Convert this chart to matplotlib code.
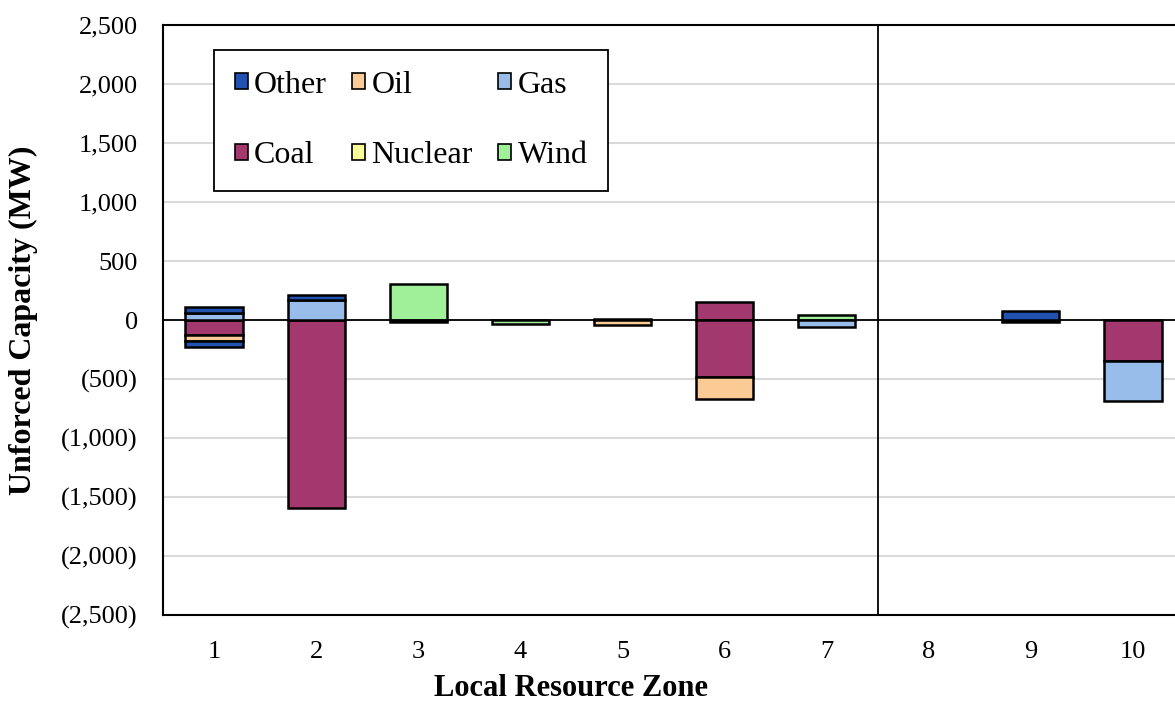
import matplotlib.pyplot as plt
from matplotlib.ticker import FuncFormatter
from matplotlib.patches import Patch

plt.rcParams['font.family'] = ['Liberation Serif', 'DejaVu Serif']

# Local resource zones
zones = [1, 2, 3, 4, 5, 6, 7, 8, 9, 10]

# Capacity additions (MW) by fuel
other_add = [55, 45, 0, 0, 0, 0, 0, 0, 80, 0]
oil_add = [0, 0, 0, 0, 0, 0, 0, 0, 0, 0]
gas_add = [60, 170, 0, 0, 0, 0, 0, 0, 0, 0]
coal_add = [0, 0, 0, 0, 5, 155, 0, 0, 0, 0]
nuclear_add = [0, 0, 0, 0, 0, 0, 0, 0, 0, 0]
wind_add = [0, 0, 305, 0, 0, 0, 40, 0, 0, 0]

# Capacity retirements (MW) by fuel
other_ret = [-50, 0, 0, 0, 0, 0, 0, 0, 0, 0]
oil_ret = [-50, 0, 0, 0, -45, -190, 0, 0, 0, 0]
gas_ret = [0, 0, -20, 0, 0, 0, -55, 0, 0, -345]
coal_ret = [-130, -1590, 0, 0, 0, -483, 0, 0, -15, -345]
nuclear_ret = [0, 0, 0, 0, 0, 0, 0, 0, 0, 0]
wind_ret = [0, 0, 0, -30, 0, 0, 0, 0, 0, 0]

colors = {
    'Other': '#2152B0',
    'Oil': '#FCCB95',
    'Gas': '#98BDEB',
    'Coal': '#A3386E',
    'Nuclear': '#FFFF99',
    'Wind': '#A0F09A',
}

# stacking order from zero outward
stack = [
    ('Wind', wind_add, wind_ret),
    ('Nuclear', nuclear_add, nuclear_ret),
    ('Coal', coal_add, coal_ret),
    ('Gas', gas_add, gas_ret),
    ('Oil', oil_add, oil_ret),
    ('Other', other_add, other_ret),
]

fig = plt.figure(figsize=(11.75, 7.03), dpi=100)
ax = fig.add_axes([0.1387, 0.1252, 0.869, 0.839])

pos_base = [0] * len(zones)
neg_base = [0] * len(zones)
for name, add, ret in stack:
    for vals, base in ((add, pos_base), (ret, neg_base)):
        # Excel doesn't draw empty segments, so skip the zeros
        idx = [i for i, v in enumerate(vals) if v != 0]
        if idx:
            ax.bar([zones[i] for i in idx], [vals[i] for i in idx],
                   bottom=[base[i] for i in idx], width=0.56,
                   color=colors[name], edgecolor='black', linewidth=1.8,
                   zorder=3)
    pos_base = [b + v for b, v in zip(pos_base, add)]
    neg_base = [b + v for b, v in zip(neg_base, ret)]

ax.axhline(0, color='black', linewidth=1.3, zorder=2)
ax.axvline(7.5, color='black', linewidth=1.3, zorder=2)

ax.set_xlim(0.5, 10.5)
ax.set_ylim(-2500, 2500)
ax.set_yticks(range(-2500, 2501, 500))
ax.set_xticks(zones)
ax.yaxis.set_major_formatter(FuncFormatter(
    lambda v, p: f'({abs(int(v)):,})' if v < 0 else f'{int(v):,}'))
ax.tick_params(axis='both', length=0, labelsize=19)
ax.tick_params(axis='y', pad=18)
ax.tick_params(axis='x', pad=19)
ax.grid(axis='y', color='#d9d9d9', linewidth=1.5, zorder=0)

for s in ax.spines.values():
    s.set_linewidth(1.5)
    s.set_color('black')

ax.set_ylabel('Unforced Capacity (MW)', fontsize=23, fontweight='bold',
              va='center', ha='center')
ax.set_xlabel('Local Resource Zone', fontsize=22, fontweight='bold',
              va='center', ha='center')
ax.yaxis.set_label_coords(-0.137, 0.5)
ax.xaxis.set_label_coords(0.40, -0.124)

# legend rows: Other Oil Gas / Coal Nuclear Wind
order = ['Other', 'Coal', 'Oil', 'Nuclear', 'Gas', 'Wind']
handles = [Patch(facecolor=colors[n], edgecolor='black', linewidth=1.2) for n in order]
leg = ax.legend(handles, order, loc='upper left', bbox_to_anchor=(0.05, 0.958),
                borderaxespad=0, ncol=3, fontsize=23, fancybox=False,
                framealpha=1, edgecolor='black', handlelength=0.4,
                handleheight=0.4, handletextpad=0.2, columnspacing=0.8,
                labelspacing=1.3, borderpad=0.65)
leg.get_frame().set_linewidth(1.3)

fig.savefig('out.png', dpi=100)
